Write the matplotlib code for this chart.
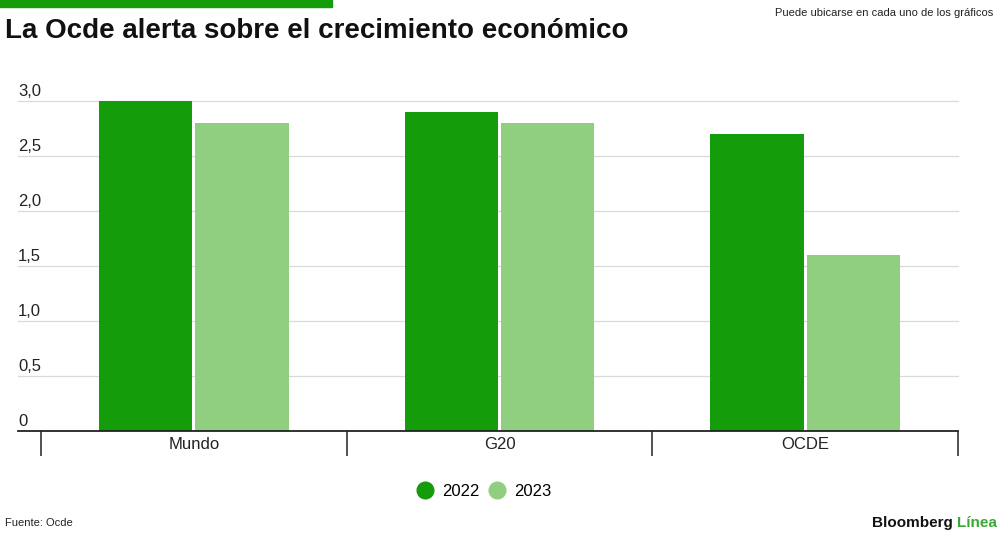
import matplotlib.pyplot as plt
from matplotlib.lines import Line2D
from matplotlib.patches import Rectangle
import numpy as np

plt.rcParams['font.family'] = ['Liberation Sans', 'DejaVu Sans']

# data
categories = ['Mundo', 'G20', 'OCDE']
years = ['2022', '2023']
values_2022 = [3.0, 2.9, 2.7]
values_2023 = [2.8, 2.8, 1.6]
yticks = [0, 0.5, 1.0, 1.5, 2.0, 2.5, 3.0]
ytick_labels = ['0', '0,5', '1,0', '1,5', '2,0', '2,5', '3,0']

dark_green = '#149c0b'
light_green = '#90cf80'
grid_color = '#d9d9d9'

fig = plt.figure(figsize=(10, 5.34), dpi=100)
ax = fig.add_axes([0.018, (534 - 431) / 534, 0.940, 330 / 534])

x = np.arange(len(categories))
w = 0.305
gap = 0.005
ax.bar(x - w / 2 - gap, values_2022, width=w, color=dark_green, zorder=3)
ax.bar(x + w / 2 + gap, values_2023, width=w, color=light_green, zorder=3)

ax.set_xlim(-0.575, 2.5)
ax.set_ylim(0, 3.0)

# gridlines
for t in yticks[1:]:
    ax.axhline(t, color=grid_color, lw=0.9, zorder=1, clip_on=False)
ax.axhline(0, color='#222222', lw=1.3, zorder=4, clip_on=False)

# y labels sit above their gridlines
ax.set_yticks([])
for t, lab in zip(yticks, ytick_labels):
    ax.annotate(lab, xy=(0, t), xycoords=('axes fraction', 'data'),
                xytext=(0, 1.5), textcoords='offset points',
                ha='left', va='bottom', fontsize=12, color='#222222')

# category separators
bounds = np.arange(len(categories) + 1) - 0.5
ax.vlines(bounds, -0.076, 0, transform=ax.get_xaxis_transform(),
          color='#222222', lw=1.1, clip_on=False)

ax.set_xticks(x)
ax.set_xticklabels(categories, fontsize=12, color='#222222')
ax.tick_params(axis='x', length=0, pad=4)

for s in ax.spines.values():
    s.set_visible(False)

# legend
handles = [Line2D([], [], marker='o', ls='', markersize=12, color=c)
           for c in (dark_green, light_green)]
fig.legend(handles, years, loc='center', bbox_to_anchor=(0.484, 1 - 491 / 534),
           ncol=2, frameon=False, fontsize=12, handletextpad=0.5,
           columnspacing=0.6, handlelength=1.0)

# header / footer
fig.patches.append(Rectangle((0, 1 - 7 / 534), 0.332, 7 / 534,
                             transform=fig.transFigure, color=dark_green))
fig.text(0.005, 1 - 31 / 534, 'La Ocde alerta sobre el crecimiento económico',
         fontsize=20, fontweight='bold', color='#111111', va='center', ha='left')
fig.text(0.993, 1 - 13 / 534, 'Puede ubicarse en cada uno de los gráficos',
         fontsize=8, color='#222222', va='center', ha='right')
fig.text(0.005, 1 - 523 / 534, 'Fuente: Ocde', fontsize=8, color='#222222',
         va='center', ha='left')
linea = fig.text(0.997, 1 - 523 / 534, 'Línea', fontsize=11, fontweight='bold',
                 color='#3aa835', va='center', ha='right')
ax.annotate('Bloomberg ', xy=(0, 0.5), xycoords=linea, ha='right', va='center',
            fontsize=11, fontweight='bold', color='#111111')

fig.savefig('out.png', dpi=100, facecolor='white')
